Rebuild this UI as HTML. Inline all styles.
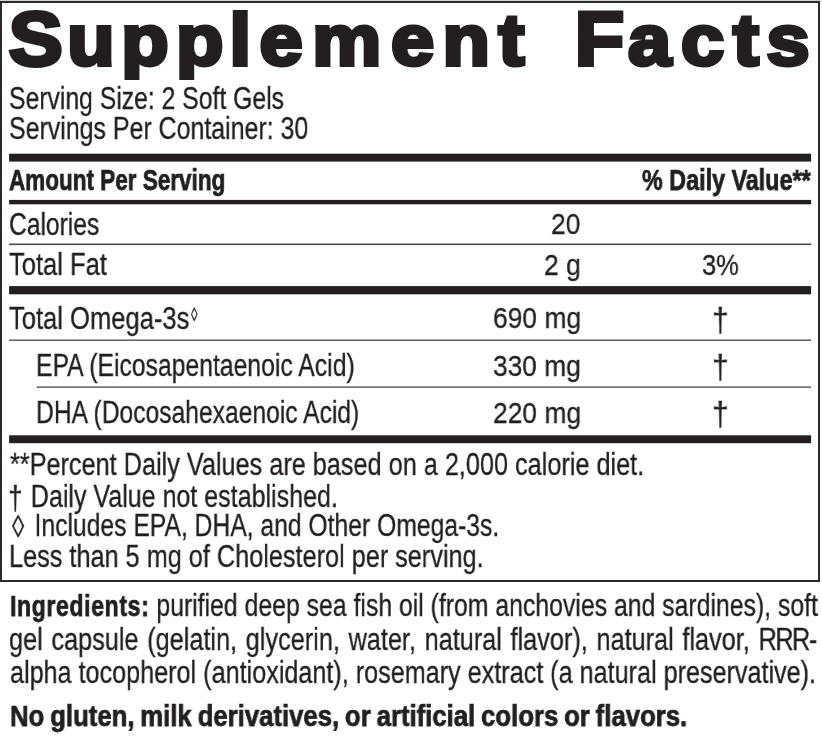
<!DOCTYPE html>
<html><head><meta charset="utf-8"><title>Supplement Facts</title>
<style>
html,body{margin:0;padding:0;background:#fff;}
body{width:822px;height:754px;position:relative;overflow:hidden;font-family:'Liberation Sans', sans-serif;color:#231f20;}
.box{position:absolute;left:0;top:1px;width:816.2px;height:576.6px;border:2px solid #2e2a2b;}
.topline{position:absolute;left:0;top:0;width:822px;height:1px;background:#d0d0d0;}
.t{position:absolute;white-space:pre;line-height:1;transform-origin:0 0;will-change:transform;-webkit-text-stroke:0.32px #231f20;}
.bar{position:absolute;background:#231f20;}
.title,.bars{position:absolute;left:0;top:0;}
b{font-weight:700;-webkit-text-stroke-width:0.75px;font-size:92.9%;position:relative;top:-0.3px;letter-spacing:0.8px;}
.dg{font-size:104.8%;position:relative;top:2.2px;margin-right:1.6px;}
.r3{letter-spacing:-1.8px;}
.lz{position:relative;top:1px;margin-right:4.4px;}
</style></head><body>
<div class="topline"></div>
<div class="box"></div>
<svg class="title" width="822" height="80" viewBox="0 0 822 80"><text transform="scale(1.07,1)" y="64.6" font-family="Liberation Sans, sans-serif" font-weight="700" fill="#231f20" stroke="#231f20" stroke-width="4.0" stroke-linejoin="miter" stroke-miterlimit="3" xml:space="preserve"><tspan font-size="75.6" x="8.26">S</tspan><tspan font-size="72.5" x="62.77 113.31 164.52 214.54 242.47 291.93 365.50 413.60 465.97 504.67">upplement </tspan><tspan font-size="75.6" x="537.07">F</tspan><tspan font-size="72.5" x="586.96 636.45 685.12 716.41">acts</tspan></text></svg>
<svg class="bars" width="822" height="600" viewBox="0 0 822 600"><rect x="9.1" y="153.7" width="802" height="7.9" fill="#231f20"/><rect x="9.1" y="199.9" width="802" height="4.4" fill="#231f20"/><rect x="9.1" y="243.5" width="802" height="1.6" fill="#4d4a4b"/><rect x="9.1" y="286.1" width="802" height="8.2" fill="#231f20"/><rect x="9.1" y="339.5" width="802" height="1.4" fill="#555253"/><rect x="36.7" y="386.4" width="774.4" height="1.4" fill="#555253"/><rect x="9.1" y="435.3" width="802" height="7.9" fill="#231f20"/></svg>
<div id="ss" class="t" style="left:9.08px;top:82.61px;font-size:31.0px;font-weight:400;transform:scaleX(0.7981);">Serving Size: 2 Soft Gels</div>
<div id="spc" class="t" style="left:9.07px;top:112.61px;font-size:31.0px;font-weight:400;transform:scaleX(0.8039);">Servings Per Container: 30</div>
<div id="aps" class="t" style="left:8.74px;top:165.97px;font-size:28.8px;font-weight:700;transform:scaleX(0.7812);-webkit-text-stroke-width:0.75px;">Amount Per Serving</div>
<div id="dv" class="t" style="left:642.22px;top:166.17px;font-size:28.8px;font-weight:700;transform:scaleX(0.8102);-webkit-text-stroke-width:0.75px;">% Daily Value**</div>
<div id="cal" class="t" style="left:9.15px;top:208.51px;font-size:31.0px;font-weight:400;transform:scaleX(0.7935);">Calories</div>
<div id="cal_v" class="t" style="left:550.87px;top:209.35px;font-size:30.0px;font-weight:400;transform:scaleX(0.8796);">20</div>
<div id="fat" class="t" style="left:8.73px;top:249.41px;font-size:31.0px;font-weight:400;transform:scaleX(0.8240);">Total Fat</div>
<div id="fat_v" class="t" style="left:544.07px;top:250.26px;font-size:30.0px;font-weight:400;transform:scaleX(0.8831);">2 g</div>
<div id="fat_p" class="t" style="left:701.63px;top:250.26px;font-size:30.0px;font-weight:400;transform:scaleX(0.8457);">3%</div>
<div id="om" class="t" style="left:8.73px;top:302.61px;font-size:31.0px;font-weight:400;transform:scaleX(0.8244);">Total Omega-3s</div>
<div id="om_s" class="t" style="left:190.75px;top:304.51px;font-size:19.3px;font-weight:400;transform:scaleX(0.6809);">&#9674;</div>
<div id="om_v" class="t" style="left:492.96px;top:303.46px;font-size:30.0px;font-weight:400;transform:scaleX(0.8797);">690 mg</div>
<div id="om_p" class="t" style="left:711.99px;top:303.12px;font-size:33.0px;font-weight:400;transform:scaleX(0.9046);">&dagger;</div>
<div id="epa" class="t" style="left:35.57px;top:349.91px;font-size:31.0px;font-weight:400;transform:scaleX(0.7982);">EPA (Eicosapentaenoic Acid)</div>
<div id="epa_v" class="t" style="left:493.30px;top:350.76px;font-size:30.0px;font-weight:400;transform:scaleX(0.8763);">330 mg</div>
<div id="epa_p" class="t" style="left:711.99px;top:350.42px;font-size:33.0px;font-weight:400;transform:scaleX(0.9046);">&dagger;</div>
<div id="dha" class="t" style="left:35.98px;top:396.71px;font-size:31.0px;font-weight:400;transform:scaleX(0.7949);">DHA (Docosahexaenoic Acid)</div>
<div id="dha_v" class="t" style="left:492.97px;top:397.56px;font-size:30.0px;font-weight:400;transform:scaleX(0.8796);">220 mg</div>
<div id="dha_p" class="t" style="left:711.99px;top:397.22px;font-size:33.0px;font-weight:400;transform:scaleX(0.9046);">&dagger;</div>
<div id="f1" class="t" style="left:10.09px;top:449.41px;font-size:31.0px;font-weight:400;transform:scaleX(0.8148);">**Percent Daily Values are based on a 2,000 calorie diet.</div>
<div id="f2" class="t" style="left:8.40px;top:479.71px;font-size:31.0px;font-weight:400;transform:scaleX(0.8074);"><span class="dg">&dagger;</span> Daily Value not established.</div>
<div id="f3" class="t" style="left:11.80px;top:509.91px;font-size:31.0px;font-weight:400;transform:scaleX(0.7962);"><span class="lz">&#9674;</span> Includes EPA, DHA, and Other Omega-3s.</div>
<div id="f4" class="t" style="left:8.83px;top:540.51px;font-size:31.0px;font-weight:400;transform:scaleX(0.8150);">Less than 5 mg of Cholesterol per serving.</div>
<div id="i1" class="t" style="left:9.76px;top:590.11px;font-size:31.0px;font-weight:400;transform:scaleX(0.7999);"><b>Ingredients:</b> purified deep sea fish oil (from anchovies and sardines), soft</div>
<div id="i2" class="t" style="left:9.24px;top:623.51px;font-size:31.0px;font-weight:400;transform:scaleX(0.8154);word-spacing:2px;">gel capsule (gelatin, glycerin, water, natural flavor), natural flavor, <span class="r3">RRR</span>-</div>
<div id="i3" class="t" style="left:9.63px;top:657.11px;font-size:31.0px;font-weight:400;transform:scaleX(0.8122);">alpha tocopherol (antioxidant), rosemary extract (a natural preservative).</div>
<div id="ng" class="t" style="left:9.58px;top:701.57px;font-size:28.8px;font-weight:700;transform:scaleX(0.8937);-webkit-text-stroke-width:0.75px;word-spacing:-1.5px;">No gluten, milk derivatives, or artificial colors or flavors.</div>
</body></html>
